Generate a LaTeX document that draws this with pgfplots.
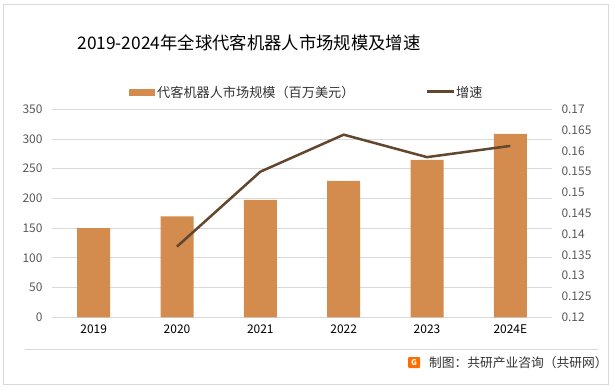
\documentclass[border=0pt]{standalone}
\usepackage{pgfplots}
\pgfplotsset{compat=1.18}
\usepackage{fontspec}
\setmainfont{Noto Sans CJK SC}
\definecolor{barc}{RGB}{211,139,78}
\definecolor{linec}{RGB}{99,70,46}
\definecolor{gridc}{RGB}{217,217,217}
\definecolor{tickc}{RGB}{89,89,89}
\definecolor{txtc}{RGB}{51,51,51}
\begin{document}
\begin{tikzpicture}[x=1bp,y=1bp]
\path[use as bounding box] (0,0) rectangle (614,389);
\fill[white] (0,0) rectangle (614,389);
\draw[gridc, line width=1bp] (3.5,5) rectangle (608.5,384.5);
\draw[gridc, line width=0.8bp] (25,40) -- (598,40);
\node[text=black, font=\fontsize{17.4}{20}\selectfont] at (249,346) {2019-2024年全球代客机器人市场规模及增速};
% legend
\fill[barc] (129,293.3) rectangle (155,300);
\node[anchor=west, text=txtc, font=\fontsize{13.2}{15}\selectfont, inner sep=1bp] at (156,296.7) {代客机器人市场规模（百万美元）};
\draw[linec, line width=2.5bp] (427,297.3) -- (454,297.3);
\node[anchor=west, text=txtc, font=\fontsize{13.2}{15}\selectfont, inner sep=1bp] at (455,296.7) {增速};
% footer
\fill[orange!85!red, rounded corners=1bp] (408,21) rectangle (420,32);
\node[text=white, font=\bfseries\fontsize{8}{8}\selectfont, inner sep=0] at (414,26.5) {G};
\node[anchor=west, text=txtc, font=\fontsize{12.8}{14}\selectfont, inner sep=0] at (429,26) {制图：共研产业咨询（共研网）};
\begin{axis}[
  at={(52bp,71.7bp)}, anchor=south west, scale only axis,
  width=500bp, height=208bp,
  xmin=-0.5, xmax=5.5, ymin=0, ymax=350,
  ytick={0,50,...,350},
  xtick={0,1,2,3,4,5},
  xticklabels={2019,2020,2021,2022,2023,2024E},
  axis x line*=bottom, axis y line*=left,
  y axis line style={draw=none},
  x axis line style={draw=gridc, line width=0.8bp, -},
  ymajorgrids, grid style={draw=gridc, line width=0.8bp},
  major tick length=0,
  /pgf/number format/assume math mode=true,
  yticklabel style={font=\fontsize{12}{12}\selectfont, text=tickc, xshift=-6bp},
  xticklabel style={font=\fontsize{12}{12}\selectfont, text=black, yshift=-4bp},
]
\addplot[ybar, bar width=33bp, fill=barc, draw=none] coordinates {(0,150) (1,170) (2,197.5) (3,229.5) (4,265) (5,308.5)};
\end{axis}
\begin{axis}[
  at={(52bp,71.7bp)}, anchor=south west, scale only axis,
  width=500bp, height=208bp,
  xmin=-0.5, xmax=5.5, ymin=0.12, ymax=0.17,
  ytick={0.12,0.125,0.13,0.135,0.14,0.145,0.15,0.155,0.16,0.165,0.17},
  axis x line=none, axis y line*=right,
  y axis line style={draw=none},
  major tick length=0,
  /pgf/number format/assume math mode=true,
  /pgf/number format/fixed, /pgf/number format/precision=3,
  scaled y ticks=false,
  yticklabel style={font=\fontsize{12}{12}\selectfont, text=tickc, xshift=6bp},
]
\addplot[linec, line width=2.5bp, line join=round] coordinates {(1,0.137) (2,0.155) (3,0.1639) (4,0.1585) (5,0.1612)};
\end{axis}
\end{tikzpicture}
\end{document}
